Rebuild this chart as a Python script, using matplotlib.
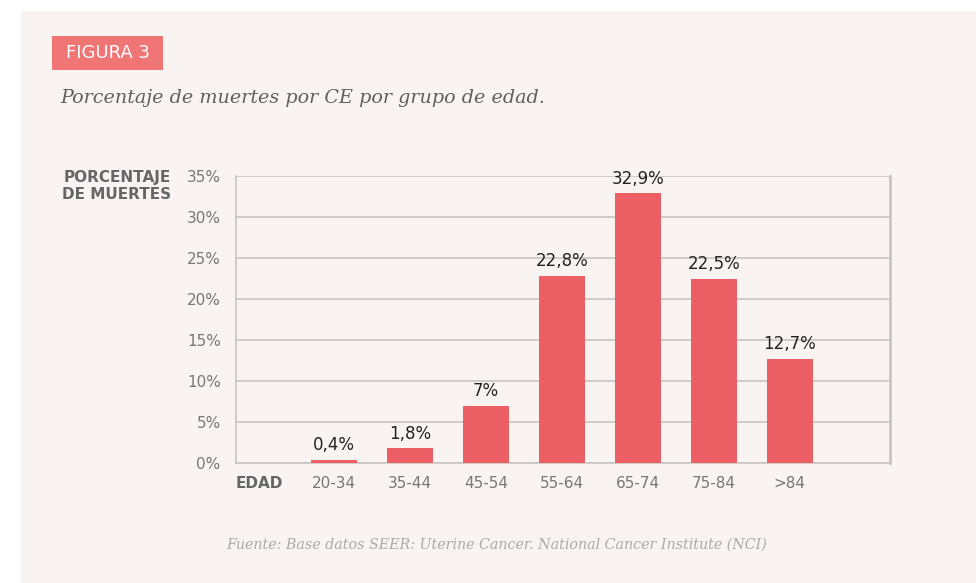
import matplotlib.pyplot as plt
from matplotlib.patches import Rectangle

grupos = ['20-34', '35-44', '45-54', '55-64', '65-74', '75-84', '>84']
porcentajes = [0.4, 1.8, 7.0, 22.8, 32.9, 22.5, 12.7]
etiquetas = ['0,4%', '1,8%', '7%', '22,8%', '32,9%', '22,5%', '12,7%']
yticks = [0, 5, 10, 15, 20, 25, 30, 35]

fondo = '#f9f4f1'
rojo = '#ec5f65'
gris = '#c8c4c2'
sans = 'DejaVu Sans'

fig = plt.figure(figsize=(9.76, 5.83), dpi=100)
fig.patch.set_facecolor('white')

# panel crema
fig.patches.append(Rectangle((21 / 976, 0), 1, 1 - 11 / 583, transform=fig.transFigure,
                             facecolor=fondo, edgecolor='none', zorder=-2))
# caja FIGURA 3
fig.patches.append(Rectangle((52 / 976, 1 - 70 / 583), 111 / 976, 34 / 583,
                             transform=fig.transFigure, facecolor='#f07575',
                             edgecolor='none', zorder=-1))
fig.text(108 / 976, 1 - 53 / 583, 'FIGURA 3', color='white', fontsize=13,
         family=sans, ha='center', va='center')
fig.text(60 / 976, 1 - 98 / 583, 'Porcentaje de muertes por CE por grupo de edad.',
         color='#606060', fontsize=13.8, family='DejaVu Serif', style='italic',
         weight='medium', ha='left', va='center')

ax = fig.add_axes([236 / 976, 1 - 463 / 583, 654 / 976, 287 / 583])
ax.set_facecolor(fondo)
x = list(range(len(grupos)))
bars = ax.bar(x, porcentajes, width=0.6, color=rojo, zorder=3)
ax.bar_label(bars, labels=etiquetas, padding=4, fontsize=12, color='#222222', family=sans)

ax.set_xlim(-1.29, 7.32)
ax.set_ylim(0, 35)
ax.set_yticks(yticks)
ax.set_yticklabels([f'{t}%' for t in yticks])
ax.set_xticks(x)
ax.set_xticklabels(grupos)
ax.tick_params(axis='both', length=0, labelsize=11, labelcolor='#777777', labelfontfamily=sans)
ax.tick_params(axis='y', pad=11)
ax.tick_params(axis='x', pad=9)
ax.grid(axis='y', color=gris, linewidth=1.2, zorder=0)
for s in ['left', 'bottom', 'right', 'top']:
    ax.spines[s].set_color(gris)
    ax.spines[s].set_linewidth(1.2)
ax.spines['right'].set_linewidth(2)
ax.spines['top'].set_visible(False)

fig.text(171 / 976, 1 - 186 / 583, 'PORCENTAJE\nDE MUERTES', color='#666666', fontsize=11,
         family=sans, weight='bold', ha='right', va='center', linespacing=1.2)
fig.text(236 / 976, 1 - 484 / 583, 'EDAD', color='#666666', fontsize=11,
         family=sans, weight='bold', ha='left', va='center')
fig.text(497 / 976, 1 - 545 / 583,
         'Fuente: Base datos SEER: Uterine Cancer. National Cancer Institute (NCI)',
         color='#aaaaaa', fontsize=10.3, family='DejaVu Serif', style='italic',
         ha='center', va='center')

fig.savefig('out.png', dpi=100, facecolor=fig.get_facecolor())
